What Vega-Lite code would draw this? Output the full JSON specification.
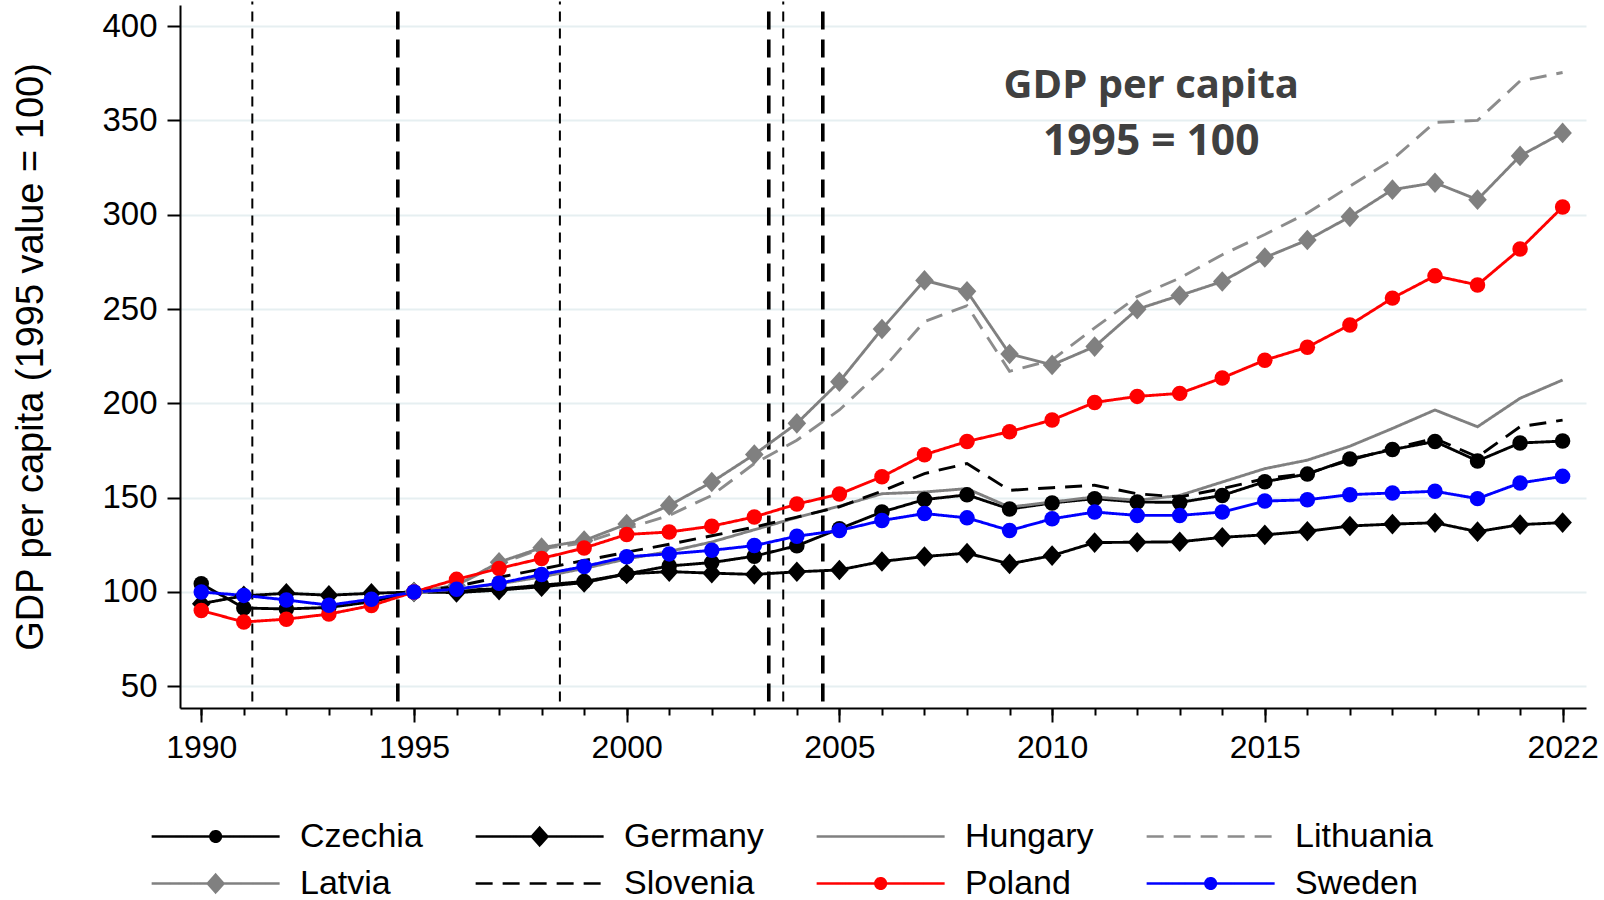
{
  "$schema": "https://vega.github.io/schema/vega-lite/v6.json",
  "width": 1406,
  "height": 703,
  "autosize": {"type": "none"},
  "padding": {"left": 180, "top": 5, "right": 18, "bottom": 192},
  "background": "#ffffff",
  "config": {
    "view": {"stroke": null},
    "font": "Liberation Sans",
    "axis": {"labelFont": "Liberation Sans", "labelColor": "#000000", "tickColor": "#000000", "domainColor": "#000000", "titleColor": "#000000", "titleFont": "Liberation Sans", "titleFontWeight": "normal"}
  },
  "datasets": {
    "events": [
      {"date": 1991.2, "kind": "minor"},
      {"date": 1994.62, "kind": "major"},
      {"date": 1998.43, "kind": "minor"},
      {"date": 2003.34, "kind": "major"},
      {"date": 2003.68, "kind": "minor"},
      {"date": 2004.61, "kind": "major"}
    ],
    "gdp": [
      {"country":"Czechia","year":1990,"value":104.4},{"country":"Czechia","year":1991,"value":91.5},{"country":"Czechia","year":1992,"value":91.0},{"country":"Czechia","year":1993,"value":91.8},{"country":"Czechia","year":1994,"value":94.8},{"country":"Czechia","year":1995,"value":100},{"country":"Czechia","year":1996,"value":101.0},{"country":"Czechia","year":1997,"value":101.6},{"country":"Czechia","year":1998,"value":103.6},{"country":"Czechia","year":1999,"value":105.6},{"country":"Czechia","year":2000,"value":109.6},{"country":"Czechia","year":2001,"value":113.8},{"country":"Czechia","year":2002,"value":115.6},{"country":"Czechia","year":2003,"value":119.0},{"country":"Czechia","year":2004,"value":124.5},{"country":"Czechia","year":2005,"value":133.5},{"country":"Czechia","year":2006,"value":142.4},{"country":"Czechia","year":2007,"value":149.0},{"country":"Czechia","year":2008,"value":151.5},{"country":"Czechia","year":2009,"value":144.0},{"country":"Czechia","year":2010,"value":147.2},{"country":"Czechia","year":2011,"value":149.5},{"country":"Czechia","year":2012,"value":147.7},{"country":"Czechia","year":2013,"value":147.5},{"country":"Czechia","year":2014,"value":151.2},{"country":"Czechia","year":2015,"value":158.5},{"country":"Czechia","year":2016,"value":162.5},{"country":"Czechia","year":2017,"value":170.5},{"country":"Czechia","year":2018,"value":175.5},{"country":"Czechia","year":2019,"value":179.8},{"country":"Czechia","year":2020,"value":169.5},{"country":"Czechia","year":2021,"value":179.0},{"country":"Czechia","year":2022,"value":180.0},
      {"country":"Germany","year":1990,"value":93.8},{"country":"Germany","year":1991,"value":98.0},{"country":"Germany","year":1992,"value":99.3},{"country":"Germany","year":1993,"value":98.3},{"country":"Germany","year":1994,"value":99.3},{"country":"Germany","year":1995,"value":100},{"country":"Germany","year":1996,"value":99.7},{"country":"Germany","year":1997,"value":101.0},{"country":"Germany","year":1998,"value":102.8},{"country":"Germany","year":1999,"value":105.0},{"country":"Germany","year":2000,"value":109.6},{"country":"Germany","year":2001,"value":110.8},{"country":"Germany","year":2002,"value":110.0},{"country":"Germany","year":2003,"value":109.3},{"country":"Germany","year":2004,"value":110.7},{"country":"Germany","year":2005,"value":111.7},{"country":"Germany","year":2006,"value":116.2},{"country":"Germany","year":2007,"value":118.8},{"country":"Germany","year":2008,"value":120.6},{"country":"Germany","year":2009,"value":114.9},{"country":"Germany","year":2010,"value":119.3},{"country":"Germany","year":2011,"value":126.2},{"country":"Germany","year":2012,"value":126.4},{"country":"Germany","year":2013,"value":126.6},{"country":"Germany","year":2014,"value":129.0},{"country":"Germany","year":2015,"value":130.3},{"country":"Germany","year":2016,"value":132.2},{"country":"Germany","year":2017,"value":135.0},{"country":"Germany","year":2018,"value":136.0},{"country":"Germany","year":2019,"value":136.7},{"country":"Germany","year":2020,"value":132.0},{"country":"Germany","year":2021,"value":135.7},{"country":"Germany","year":2022,"value":136.8},
      {"country":"Hungary","year":1995,"value":100},{"country":"Hungary","year":1996,"value":101.3},{"country":"Hungary","year":1997,"value":104.3},{"country":"Hungary","year":1998,"value":108.0},{"country":"Hungary","year":1999,"value":112.5},{"country":"Hungary","year":2000,"value":117.5},{"country":"Hungary","year":2001,"value":121.5},{"country":"Hungary","year":2002,"value":126.5},{"country":"Hungary","year":2003,"value":133.0},{"country":"Hungary","year":2004,"value":139.5},{"country":"Hungary","year":2005,"value":145.5},{"country":"Hungary","year":2006,"value":152.1},{"country":"Hungary","year":2007,"value":153.0},{"country":"Hungary","year":2008,"value":154.8},{"country":"Hungary","year":2009,"value":145.0},{"country":"Hungary","year":2010,"value":147.7},{"country":"Hungary","year":2011,"value":150.4},{"country":"Hungary","year":2012,"value":148.6},{"country":"Hungary","year":2013,"value":151.2},{"country":"Hungary","year":2014,"value":158.3},{"country":"Hungary","year":2015,"value":165.4},{"country":"Hungary","year":2016,"value":169.9},{"country":"Hungary","year":2017,"value":177.3},{"country":"Hungary","year":2018,"value":186.7},{"country":"Hungary","year":2019,"value":196.5},{"country":"Hungary","year":2020,"value":187.6},{"country":"Hungary","year":2021,"value":202.7},{"country":"Hungary","year":2022,"value":212.4},
      {"country":"Lithuania","year":1995,"value":100},{"country":"Lithuania","year":1996,"value":103.5},{"country":"Lithuania","year":1997,"value":114.9},{"country":"Lithuania","year":1998,"value":122.9},{"country":"Lithuania","year":1999,"value":126.0},{"country":"Lithuania","year":2000,"value":133.5},{"country":"Lithuania","year":2001,"value":140.6},{"country":"Lithuania","year":2002,"value":151.2},{"country":"Lithuania","year":2003,"value":168.1},{"country":"Lithuania","year":2004,"value":180.5},{"country":"Lithuania","year":2005,"value":196.5},{"country":"Lithuania","year":2006,"value":217.7},{"country":"Lithuania","year":2007,"value":243.4},{"country":"Lithuania","year":2008,"value":251.8},{"country":"Lithuania","year":2009,"value":217.0},{"country":"Lithuania","year":2010,"value":223.0},{"country":"Lithuania","year":2011,"value":240.0},{"country":"Lithuania","year":2012,"value":256.6},{"country":"Lithuania","year":2013,"value":266.4},{"country":"Lithuania","year":2014,"value":278.8},{"country":"Lithuania","year":2015,"value":289.5},{"country":"Lithuania","year":2016,"value":300.9},{"country":"Lithuania","year":2017,"value":315.1},{"country":"Lithuania","year":2018,"value":329.3},{"country":"Lithuania","year":2019,"value":349.0},{"country":"Lithuania","year":2020,"value":350.0},{"country":"Lithuania","year":2021,"value":370.9},{"country":"Lithuania","year":2022,"value":375.4},
      {"country":"Latvia","year":1995,"value":100},{"country":"Latvia","year":1996,"value":103.5},{"country":"Latvia","year":1997,"value":115.8},{"country":"Latvia","year":1998,"value":123.5},{"country":"Latvia","year":1999,"value":127.3},{"country":"Latvia","year":2000,"value":136.0},{"country":"Latvia","year":2001,"value":145.9},{"country":"Latvia","year":2002,"value":158.3},{"country":"Latvia","year":2003,"value":172.9},{"country":"Latvia","year":2004,"value":189.4},{"country":"Latvia","year":2005,"value":211.5},{"country":"Latvia","year":2006,"value":239.4},{"country":"Latvia","year":2007,"value":265.2},{"country":"Latvia","year":2008,"value":259.4},{"country":"Latvia","year":2009,"value":226.2},{"country":"Latvia","year":2010,"value":220.4},{"country":"Latvia","year":2011,"value":230.1},{"country":"Latvia","year":2012,"value":249.9},{"country":"Latvia","year":2013,"value":257.2},{"country":"Latvia","year":2014,"value":264.6},{"country":"Latvia","year":2015,"value":277.3},{"country":"Latvia","year":2016,"value":286.6},{"country":"Latvia","year":2017,"value":298.9},{"country":"Latvia","year":2018,"value":313.3},{"country":"Latvia","year":2019,"value":317.0},{"country":"Latvia","year":2020,"value":308.0},{"country":"Latvia","year":2021,"value":331.2},{"country":"Latvia","year":2022,"value":343.4},
      {"country":"Slovenia","year":1995,"value":100},{"country":"Slovenia","year":1996,"value":103.0},{"country":"Slovenia","year":1997,"value":107.8},{"country":"Slovenia","year":1998,"value":112.2},{"country":"Slovenia","year":1999,"value":116.7},{"country":"Slovenia","year":2000,"value":121.1},{"country":"Slovenia","year":2001,"value":125.3},{"country":"Slovenia","year":2002,"value":129.8},{"country":"Slovenia","year":2003,"value":134.4},{"country":"Slovenia","year":2004,"value":139.7},{"country":"Slovenia","year":2005,"value":145.2},{"country":"Slovenia","year":2006,"value":153.5},{"country":"Slovenia","year":2007,"value":162.8},{"country":"Slovenia","year":2008,"value":168.1},{"country":"Slovenia","year":2009,"value":153.9},{"country":"Slovenia","year":2010,"value":155.3},{"country":"Slovenia","year":2011,"value":156.6},{"country":"Slovenia","year":2012,"value":152.1},{"country":"Slovenia","year":2013,"value":150.4},{"country":"Slovenia","year":2014,"value":154.8},{"country":"Slovenia","year":2015,"value":160.1},{"country":"Slovenia","year":2016,"value":162.8},{"country":"Slovenia","year":2017,"value":169.9},{"country":"Slovenia","year":2018,"value":176.1},{"country":"Slovenia","year":2019,"value":181.4},{"country":"Slovenia","year":2020,"value":171.6},{"country":"Slovenia","year":2021,"value":187.6},{"country":"Slovenia","year":2022,"value":191.1},
      {"country":"Poland","year":1990,"value":90.2},{"country":"Poland","year":1991,"value":84.1},{"country":"Poland","year":1992,"value":85.6},{"country":"Poland","year":1993,"value":88.3},{"country":"Poland","year":1994,"value":92.8},{"country":"Poland","year":1995,"value":100},{"country":"Poland","year":1996,"value":106.7},{"country":"Poland","year":1997,"value":112.5},{"country":"Poland","year":1998,"value":117.8},{"country":"Poland","year":1999,"value":123.3},{"country":"Poland","year":2000,"value":130.5},{"country":"Poland","year":2001,"value":131.8},{"country":"Poland","year":2002,"value":134.9},{"country":"Poland","year":2003,"value":139.8},{"country":"Poland","year":2004,"value":146.6},{"country":"Poland","year":2005,"value":151.9},{"country":"Poland","year":2006,"value":161.1},{"country":"Poland","year":2007,"value":172.8},{"country":"Poland","year":2008,"value":179.8},{"country":"Poland","year":2009,"value":185.0},{"country":"Poland","year":2010,"value":191.2},{"country":"Poland","year":2011,"value":200.5},{"country":"Poland","year":2012,"value":203.7},{"country":"Poland","year":2013,"value":205.3},{"country":"Poland","year":2014,"value":213.5},{"country":"Poland","year":2015,"value":222.9},{"country":"Poland","year":2016,"value":229.8},{"country":"Poland","year":2017,"value":241.6},{"country":"Poland","year":2018,"value":255.8},{"country":"Poland","year":2019,"value":267.6},{"country":"Poland","year":2020,"value":262.8},{"country":"Poland","year":2021,"value":281.8},{"country":"Poland","year":2022,"value":304.1},
      {"country":"Sweden","year":1990,"value":100},{"country":"Sweden","year":1991,"value":98.2},{"country":"Sweden","year":1992,"value":95.8},{"country":"Sweden","year":1993,"value":93.0},{"country":"Sweden","year":1994,"value":96.2},{"country":"Sweden","year":1995,"value":100},{"country":"Sweden","year":1996,"value":101.5},{"country":"Sweden","year":1997,"value":104.6},{"country":"Sweden","year":1998,"value":109.3},{"country":"Sweden","year":1999,"value":113.5},{"country":"Sweden","year":2000,"value":118.7},{"country":"Sweden","year":2001,"value":120.2},{"country":"Sweden","year":2002,"value":122.1},{"country":"Sweden","year":2003,"value":124.6},{"country":"Sweden","year":2004,"value":129.6},{"country":"Sweden","year":2005,"value":132.6},{"country":"Sweden","year":2006,"value":137.9},{"country":"Sweden","year":2007,"value":141.6},{"country":"Sweden","year":2008,"value":139.3},{"country":"Sweden","year":2009,"value":132.6},{"country":"Sweden","year":2010,"value":138.8},{"country":"Sweden","year":2011,"value":142.4},{"country":"Sweden","year":2012,"value":140.6},{"country":"Sweden","year":2013,"value":140.6},{"country":"Sweden","year":2014,"value":142.4},{"country":"Sweden","year":2015,"value":148.2},{"country":"Sweden","year":2016,"value":148.9},{"country":"Sweden","year":2017,"value":151.6},{"country":"Sweden","year":2018,"value":152.5},{"country":"Sweden","year":2019,"value":153.4},{"country":"Sweden","year":2020,"value":149.5},{"country":"Sweden","year":2021,"value":157.8},{"country":"Sweden","year":2022,"value":161.3}
    ]
  },
  "resolve": {"axis": {"x": "independent", "y": "independent"}},
  "layer": [
    {
      "data": {"name": "events"},
      "transform": [{"filter": "datum.kind == 'minor'"}],
      "mark": {"type": "rule", "color": "#000000", "strokeWidth": 2, "strokeDash": [10, 7], "clip": false},
      "encoding": {
        "x": {"field": "date", "type": "quantitative", "scale": {"domain": [1989.5, 2022.55], "nice": false, "zero": false},
          "axis": {"orient": "bottom", "values": [1990,1991,1992,1993,1994,1995,1996,1997,1998,1999,2000,2001,2002,2003,2004,2005,2006,2007,2008,2009,2010,2011,2012,2013,2014,2015,2016,2017,2018,2019,2020,2021,2022], "labels": false, "tickSize": 7, "tickWidth": 2, "domain": false, "grid": false, "title": null}},
        "y": {"datum": 42, "type": "quantitative", "scale": {"domain": [38.5, 411.2], "nice": false, "zero": false}, "axis": null},
        "y2": {"datum": 413}
      }
    },
    {
      "data": {"name": "events"},
      "transform": [{"filter": "datum.kind == 'major'"}],
      "mark": {"type": "rule", "color": "#000000", "strokeWidth": 3.6, "strokeDash": [18, 10], "clip": false},
      "encoding": {
        "x": {"field": "date", "type": "quantitative", "scale": {"domain": [1989.5, 2022.55], "nice": false, "zero": false}, "axis": null},
        "y": {"datum": 42, "type": "quantitative", "scale": {"domain": [38.5, 411.2], "nice": false, "zero": false}, "axis": null},
        "y2": {"datum": 413}
      }
    },
    {
      "data": {"name": "gdp"},
      "mark": {"type": "line", "strokeWidth": 2.9},
      "encoding": {
        "x": {"field": "year", "type": "quantitative", "scale": {"domain": [1989.5, 2022.55], "nice": false, "zero": false},
          "axis": {"orient": "bottom", "values": [1990, 1995, 2000, 2005, 2010, 2015, 2022], "format": "d", "tickSize": 14, "tickWidth": 2, "domainWidth": 2, "labelFontSize": 32, "labelPadding": 10, "labelFlush": false, "labelOverlap": false, "grid": false, "title": null}},
        "y": {"field": "value", "type": "quantitative", "scale": {"domain": [38.5, 411.2], "nice": false, "zero": false},
          "axis": {"orient": "left", "values": [50, 100, 150, 200, 250, 300, 350, 400], "tickSize": 13, "tickWidth": 2, "domainWidth": 2, "labelFontSize": 33, "labelPadding": 10, "grid": true, "gridColor": "#e6eff1", "gridWidth": 2, "title": "GDP per capita (1995 value = 100)", "titleFontSize": 38, "titleX": -149, "titleY": 351.5, "titleAngle": 270, "titleAlign": "center", "titleBaseline": "middle"}},
        "color": {"field": "country", "type": "nominal",
          "scale": {"domain": ["Czechia", "Germany", "Hungary", "Lithuania", "Latvia", "Slovenia", "Poland", "Sweden"], "range": ["#000000", "#000000", "#808080", "#8c8c8c", "#808080", "#000000", "#ff0000", "#0000ff"]},
          "legend": {
            "orient": "none", "legendX": -36, "legendY": 814.5, "columns": 4, "direction": "horizontal", "title": null,
            "symbolSize": 256, "symbolStrokeWidth": 2.7, "symbolOpacity": 1, "labelFontSize": 34, "labelFont": "Liberation Sans", "labelColor": "#000000",
            "labelOffset": 122, "columnPadding": 45, "rowPadding": 13,
            "encode": {
              "symbols": {
                "update": {
                  "shape": {"signal": "datum.value == 'Hungary' || datum.value == 'Lithuania' || datum.value == 'Slovenia' ? 'M-1.17,0H14.83' : (datum.value == 'Germany' || datum.value == 'Latvia' ? 'M-1.17,0H14.83M6.83,-1.08L7.8,0L6.83,1.08L5.86,0Z' : 'M-1.17,0H14.83M7.48,0A0.65,0.65,0,1,1,6.18,0A0.65,0.65,0,1,1,7.48,0Z')"},
                  "strokeDash": {"signal": "datum.value == 'Lithuania' || datum.value == 'Slovenia' ? [17, 10] : [1, 0]"},
                  "fill": {"signal": "scale('color', datum.value)"},
                  "stroke": {"signal": "scale('color', datum.value)"}
                }
              }
            }
          }
        },
        "strokeDash": {"field": "country", "type": "nominal",
          "scale": {"domain": ["Czechia", "Germany", "Hungary", "Lithuania", "Latvia", "Slovenia", "Poland", "Sweden"], "range": [[1, 0], [1, 0], [1, 0], [17, 10], [1, 0], [17, 10], [1, 0], [1, 0]]},
          "legend": null}
      }
    },
    {
      "data": {"name": "gdp"},
      "transform": [{"filter": "indexof(['Czechia', 'Germany', 'Latvia', 'Poland', 'Sweden'], datum.country) >= 0"}],
      "mark": {"type": "point", "filled": true, "opacity": 1, "size": 240},
      "encoding": {
        "x": {"field": "year", "type": "quantitative", "scale": {"domain": [1989.5, 2022.55], "nice": false, "zero": false}, "axis": null},
        "y": {"field": "value", "type": "quantitative", "scale": {"domain": [38.5, 411.2], "nice": false, "zero": false}, "axis": null},
        "color": {"field": "country", "type": "nominal", "legend": null},
        "shape": {"field": "country", "type": "nominal",
          "scale": {"domain": ["Czechia", "Germany", "Latvia", "Poland", "Sweden"], "range": ["circle", "M0,-1.33L1.2,0L0,1.33L-1.2,0Z", "M0,-1.33L1.2,0L0,1.33L-1.2,0Z", "circle", "circle"]},
          "legend": null}
      }
    },
    {
      "data": {"values": [{"label": "GDP per capita"}]},
      "mark": {"type": "text", "font": "Open Sans", "fontWeight": "bold", "fontSize": 40, "color": "#404040", "align": "center", "baseline": "alphabetic"},
      "encoding": {
        "text": {"field": "label"},
        "x": {"datum": 2012.33, "type": "quantitative", "scale": {"domain": [1989.5, 2022.55], "nice": false, "zero": false}, "axis": null},
        "y": {"datum": 361.7, "type": "quantitative", "scale": {"domain": [38.5, 411.2], "nice": false, "zero": false}, "axis": null}
      }
    },
    {
      "data": {"values": [{"label": "1995 = 100"}]},
      "mark": {"type": "text", "font": "Open Sans", "fontWeight": "bold", "fontSize": 42.5, "color": "#404040", "align": "center", "baseline": "alphabetic"},
      "encoding": {
        "text": {"field": "label"},
        "x": {"datum": 2012.33, "type": "quantitative", "scale": {"domain": [1989.5, 2022.55], "nice": false, "zero": false}, "axis": null},
        "y": {"datum": 331.7, "type": "quantitative", "scale": {"domain": [38.5, 411.2], "nice": false, "zero": false}, "axis": null}
      }
    }
  ]
}
